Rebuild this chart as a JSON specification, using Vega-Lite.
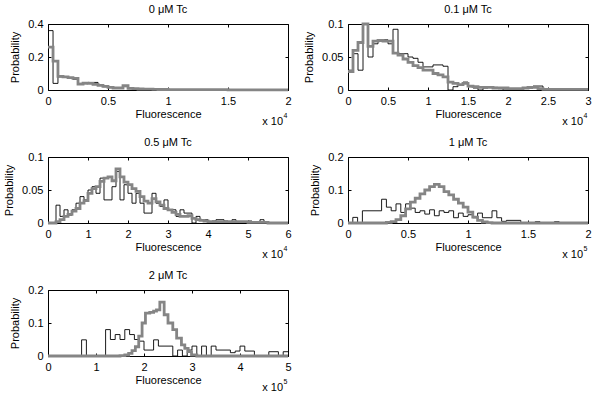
{
  "$schema": "https://vega.github.io/schema/vega-lite/v6.json",
  "padding": {"left": 3, "top": 3, "right": 5, "bottom": 5},
  "config": {
    "font": "Liberation Sans",
    "view": {"stroke": "#000", "strokeWidth": 1},
    "axis": {"grid": false, "domain": false, "tickSize": -3, "tickColor": "#000", "tickWidth": 1,
      "labelFontSize": 11, "titleFontSize": 11, "labelColor": "#000", "titleColor": "#000",
      "titleFontWeight": "normal", "labelFlush": false, "labelPadding": 8, "labelOverlap": false},
    "axisLeft": {"titlePadding": 7},
    "axisBottom": {"titlePadding": 2},
    "title": {"fontSize": 11, "fontWeight": "normal", "color": "#000", "baseline": "alphabetic", "offset": 3, "anchor": "middle"},
    "text": {"font": "Liberation Sans", "color": "#000"}
  },
  "datasets": {
    "p0": [
      {"s":"cell","x":0,"p":0.36},{"s":"cell","x":0.042,"p":0.04},{"s":"cell","x":0.083,"p":0.08},{"s":"cell","x":0.125,"p":0.078},{"s":"cell","x":0.167,"p":0.072},{"s":"cell","x":0.208,"p":0.065},{"s":"cell","x":0.25,"p":0.04},{"s":"cell","x":0.292,"p":0.038},{"s":"cell","x":0.333,"p":0.046},{"s":"cell","x":0.375,"p":0.046},{"s":"cell","x":0.417,"p":0.03},{"s":"cell","x":0.458,"p":0.02},{"s":"cell","x":0.5,"p":0.015},{"s":"cell","x":0.542,"p":0.01},{"s":"cell","x":0.583,"p":0.01},{"s":"cell","x":0.625,"p":0.02},{"s":"cell","x":0.667,"p":0.008},{"s":"cell","x":0.708,"p":0.005},{"s":"cell","x":0.75,"p":0.004},{"s":"cell","x":0.792,"p":0.004},{"s":"cell","x":0.833,"p":0.008},{"s":"cell","x":0.875,"p":0.004},{"s":"cell","x":0.917,"p":0.002},{"s":"cell","x":0.958,"p":0},{"s":"cell","x":2,"p":0},
      {"s":"sim","x":0,"p":0.26},{"s":"sim","x":0.042,"p":0.175},{"s":"sim","x":0.083,"p":0.082},{"s":"sim","x":0.125,"p":0.08},{"s":"sim","x":0.167,"p":0.075},{"s":"sim","x":0.208,"p":0.07},{"s":"sim","x":0.25,"p":0.036},{"s":"sim","x":0.292,"p":0.042},{"s":"sim","x":0.333,"p":0.04},{"s":"sim","x":0.375,"p":0.034},{"s":"sim","x":0.417,"p":0.028},{"s":"sim","x":0.458,"p":0.022},{"s":"sim","x":0.5,"p":0.016},{"s":"sim","x":0.542,"p":0.012},{"s":"sim","x":0.583,"p":0.012},{"s":"sim","x":0.625,"p":0.026},{"s":"sim","x":0.667,"p":0.01},{"s":"sim","x":0.708,"p":0.008},{"s":"sim","x":0.75,"p":0.006},{"s":"sim","x":0.792,"p":0.005},{"s":"sim","x":0.833,"p":0.005},{"s":"sim","x":0.875,"p":0.004},{"s":"sim","x":0.917,"p":0.003},{"s":"sim","x":0.958,"p":0.003},{"s":"sim","x":1,"p":0.002},{"s":"sim","x":1.25,"p":0.002},{"s":"sim","x":1.5,"p":0.001},{"s":"sim","x":2,"p":0.001}
    ],
    "p01": [
      {"s":"cell","x":0,"p":0.03},{"s":"cell","x":0.0625,"p":0.055},{"s":"cell","x":0.125,"p":0.03},{"s":"cell","x":0.1875,"p":0.1},{"s":"cell","x":0.25,"p":0.05},{"s":"cell","x":0.3125,"p":0.07},{"s":"cell","x":0.375,"p":0.076},{"s":"cell","x":0.4375,"p":0.076},{"s":"cell","x":0.5,"p":0.07},{"s":"cell","x":0.5625,"p":0.092},{"s":"cell","x":0.625,"p":0.055},{"s":"cell","x":0.6875,"p":0.055},{"s":"cell","x":0.75,"p":0.05},{"s":"cell","x":0.8125,"p":0.048},{"s":"cell","x":0.875,"p":0.042},{"s":"cell","x":0.9375,"p":0.035},{"s":"cell","x":1,"p":0.035},{"s":"cell","x":1.0625,"p":0.038},{"s":"cell","x":1.125,"p":0.038},{"s":"cell","x":1.1875,"p":0.036},{"s":"cell","x":1.25,"p":0},{"s":"cell","x":1.3125,"p":0.005},{"s":"cell","x":1.375,"p":0.008},{"s":"cell","x":1.4375,"p":0.012},{"s":"cell","x":1.5,"p":0.005},{"s":"cell","x":1.5625,"p":0.003},{"s":"cell","x":1.625,"p":0},{"s":"cell","x":1.6875,"p":0.003},{"s":"cell","x":1.75,"p":0.005},{"s":"cell","x":1.8125,"p":0.004},{"s":"cell","x":1.875,"p":0.002},{"s":"cell","x":1.9375,"p":0},{"s":"cell","x":2,"p":0.002},{"s":"cell","x":2.0625,"p":0},{"s":"cell","x":2.125,"p":0.002},{"s":"cell","x":2.1875,"p":0.003},{"s":"cell","x":2.25,"p":0.003},{"s":"cell","x":2.3125,"p":0.006},{"s":"cell","x":2.375,"p":0.006},{"s":"cell","x":2.4375,"p":0},{"s":"cell","x":3,"p":0},
      {"s":"sim","x":0,"p":0.028},{"s":"sim","x":0.0625,"p":0.06},{"s":"sim","x":0.125,"p":0.072},{"s":"sim","x":0.1875,"p":0.1},{"s":"sim","x":0.25,"p":0.066},{"s":"sim","x":0.3125,"p":0.074},{"s":"sim","x":0.375,"p":0.075},{"s":"sim","x":0.4375,"p":0.074},{"s":"sim","x":0.5,"p":0.074},{"s":"sim","x":0.5625,"p":0.056},{"s":"sim","x":0.625,"p":0.053},{"s":"sim","x":0.6875,"p":0.047},{"s":"sim","x":0.75,"p":0.042},{"s":"sim","x":0.8125,"p":0.037},{"s":"sim","x":0.875,"p":0.034},{"s":"sim","x":0.9375,"p":0.03},{"s":"sim","x":1,"p":0.03},{"s":"sim","x":1.0625,"p":0.025},{"s":"sim","x":1.125,"p":0.023},{"s":"sim","x":1.1875,"p":0.02},{"s":"sim","x":1.25,"p":0.012},{"s":"sim","x":1.3125,"p":0.01},{"s":"sim","x":1.375,"p":0.008},{"s":"sim","x":1.4375,"p":0.01},{"s":"sim","x":1.5,"p":0.006},{"s":"sim","x":1.5625,"p":0.005},{"s":"sim","x":1.625,"p":0.004},{"s":"sim","x":1.6875,"p":0.004},{"s":"sim","x":1.75,"p":0.004},{"s":"sim","x":1.8125,"p":0.003},{"s":"sim","x":1.875,"p":0.003},{"s":"sim","x":1.9375,"p":0.003},{"s":"sim","x":2,"p":0.002},{"s":"sim","x":2.0625,"p":0.002},{"s":"sim","x":2.125,"p":0.002},{"s":"sim","x":2.1875,"p":0.003},{"s":"sim","x":2.25,"p":0.004},{"s":"sim","x":2.3125,"p":0.004},{"s":"sim","x":2.375,"p":0.002},{"s":"sim","x":2.4375,"p":0.001},{"s":"sim","x":2.5,"p":0.001},{"s":"sim","x":3,"p":0.001}
    ],
    "p05": [
      {"s":"cell","x":0,"p":0},{"s":"cell","x":0.2,"p":0.027},{"s":"cell","x":0.3,"p":0.01},{"s":"cell","x":0.4,"p":0.02},{"s":"cell","x":0.5,"p":0.012},{"s":"cell","x":0.6,"p":0.02},{"s":"cell","x":0.7,"p":0.03},{"s":"cell","x":0.8,"p":0.04},{"s":"cell","x":0.9,"p":0.035},{"s":"cell","x":1.0,"p":0.05},{"s":"cell","x":1.1,"p":0.055},{"s":"cell","x":1.2,"p":0.045},{"s":"cell","x":1.3,"p":0.068},{"s":"cell","x":1.4,"p":0.035},{"s":"cell","x":1.5,"p":0.035},{"s":"cell","x":1.6,"p":0.055},{"s":"cell","x":1.7,"p":0.078},{"s":"cell","x":1.8,"p":0.035},{"s":"cell","x":1.9,"p":0.058},{"s":"cell","x":2.0,"p":0.045},{"s":"cell","x":2.1,"p":0.03},{"s":"cell","x":2.2,"p":0.045},{"s":"cell","x":2.3,"p":0.03},{"s":"cell","x":2.4,"p":0.015},{"s":"cell","x":2.5,"p":0.015},{"s":"cell","x":2.6,"p":0.045},{"s":"cell","x":2.7,"p":0.03},{"s":"cell","x":2.8,"p":0.025},{"s":"cell","x":2.9,"p":0.035},{"s":"cell","x":3.0,"p":0.02},{"s":"cell","x":3.1,"p":0.02},{"s":"cell","x":3.2,"p":0.01},{"s":"cell","x":3.3,"p":0.02},{"s":"cell","x":3.4,"p":0.015},{"s":"cell","x":3.5,"p":0.015},{"s":"cell","x":3.6,"p":0},{"s":"cell","x":3.7,"p":0.01},{"s":"cell","x":3.8,"p":0.005},{"s":"cell","x":3.9,"p":0.005},{"s":"cell","x":4.0,"p":0},{"s":"cell","x":4.1,"p":0.003},{"s":"cell","x":4.2,"p":0.005},{"s":"cell","x":4.3,"p":0.005},{"s":"cell","x":4.4,"p":0.003},{"s":"cell","x":4.5,"p":0},{"s":"cell","x":4.6,"p":0.005},{"s":"cell","x":4.7,"p":0},{"s":"cell","x":5.0,"p":0.003},{"s":"cell","x":5.1,"p":0},{"s":"cell","x":5.3,"p":0.005},{"s":"cell","x":5.4,"p":0},{"s":"cell","x":6,"p":0},
      {"s":"sim","x":0,"p":0},{"s":"sim","x":0.2,"p":0.002},{"s":"sim","x":0.3,"p":0.005},{"s":"sim","x":0.4,"p":0.01},{"s":"sim","x":0.5,"p":0.013},{"s":"sim","x":0.6,"p":0.018},{"s":"sim","x":0.7,"p":0.022},{"s":"sim","x":0.8,"p":0.03},{"s":"sim","x":0.9,"p":0.034},{"s":"sim","x":1.0,"p":0.045},{"s":"sim","x":1.1,"p":0.052},{"s":"sim","x":1.2,"p":0.055},{"s":"sim","x":1.3,"p":0.063},{"s":"sim","x":1.4,"p":0.068},{"s":"sim","x":1.5,"p":0.07},{"s":"sim","x":1.6,"p":0.064},{"s":"sim","x":1.7,"p":0.082},{"s":"sim","x":1.8,"p":0.07},{"s":"sim","x":1.9,"p":0.062},{"s":"sim","x":2.0,"p":0.058},{"s":"sim","x":2.1,"p":0.052},{"s":"sim","x":2.2,"p":0.048},{"s":"sim","x":2.3,"p":0.04},{"s":"sim","x":2.4,"p":0.033},{"s":"sim","x":2.5,"p":0.03},{"s":"sim","x":2.6,"p":0.037},{"s":"sim","x":2.7,"p":0.032},{"s":"sim","x":2.8,"p":0.027},{"s":"sim","x":2.9,"p":0.022},{"s":"sim","x":3.0,"p":0.02},{"s":"sim","x":3.1,"p":0.016},{"s":"sim","x":3.2,"p":0.013},{"s":"sim","x":3.3,"p":0.01},{"s":"sim","x":3.4,"p":0.01},{"s":"sim","x":3.5,"p":0.011},{"s":"sim","x":3.6,"p":0.007},{"s":"sim","x":3.7,"p":0.005},{"s":"sim","x":3.8,"p":0.004},{"s":"sim","x":3.9,"p":0.003},{"s":"sim","x":4.0,"p":0.002},{"s":"sim","x":4.5,"p":0.002},{"s":"sim","x":5.0,"p":0.001},{"s":"sim","x":5.5,"p":0},{"s":"sim","x":6,"p":0}
    ],
    "p1": [
      {"s":"cell","x":0,"p":0},{"s":"cell","x":0.04,"p":0.017},{"s":"cell","x":0.08,"p":0},{"s":"cell","x":0.12,"p":0.037},{"s":"cell","x":0.28,"p":0.072},{"s":"cell","x":0.32,"p":0.048},{"s":"cell","x":0.36,"p":0.037},{"s":"cell","x":0.4,"p":0.058},{"s":"cell","x":0.44,"p":0.032},{"s":"cell","x":0.48,"p":0.058},{"s":"cell","x":0.52,"p":0.045},{"s":"cell","x":0.56,"p":0.032},{"s":"cell","x":0.6,"p":0.037},{"s":"cell","x":0.64,"p":0.027},{"s":"cell","x":0.68,"p":0.04},{"s":"cell","x":0.72,"p":0.022},{"s":"cell","x":0.76,"p":0.037},{"s":"cell","x":0.8,"p":0.032},{"s":"cell","x":0.84,"p":0.037},{"s":"cell","x":0.88,"p":0.016},{"s":"cell","x":0.92,"p":0.03},{"s":"cell","x":0.96,"p":0.02},{"s":"cell","x":1.0,"p":0.025},{"s":"cell","x":1.04,"p":0.016},{"s":"cell","x":1.08,"p":0.03},{"s":"cell","x":1.12,"p":0.016},{"s":"cell","x":1.2,"p":0.037},{"s":"cell","x":1.24,"p":0.016},{"s":"cell","x":1.28,"p":0.005},{"s":"cell","x":1.32,"p":0.008},{"s":"cell","x":1.44,"p":0},{"s":"cell","x":1.56,"p":0.004},{"s":"cell","x":1.6,"p":0},{"s":"cell","x":1.72,"p":0.004},{"s":"cell","x":1.76,"p":0},{"s":"cell","x":2,"p":0},
      {"s":"sim","x":0,"p":0},{"s":"sim","x":0.32,"p":0.002},{"s":"sim","x":0.36,"p":0.004},{"s":"sim","x":0.4,"p":0.01},{"s":"sim","x":0.44,"p":0.022},{"s":"sim","x":0.48,"p":0.043},{"s":"sim","x":0.52,"p":0.063},{"s":"sim","x":0.56,"p":0.075},{"s":"sim","x":0.6,"p":0.088},{"s":"sim","x":0.64,"p":0.1},{"s":"sim","x":0.68,"p":0.11},{"s":"sim","x":0.72,"p":0.117},{"s":"sim","x":0.76,"p":0.11},{"s":"sim","x":0.8,"p":0.095},{"s":"sim","x":0.84,"p":0.085},{"s":"sim","x":0.88,"p":0.072},{"s":"sim","x":0.92,"p":0.06},{"s":"sim","x":0.96,"p":0.048},{"s":"sim","x":1.0,"p":0.033},{"s":"sim","x":1.04,"p":0.018},{"s":"sim","x":1.08,"p":0.008},{"s":"sim","x":1.12,"p":0.003},{"s":"sim","x":1.16,"p":0.001},{"s":"sim","x":1.2,"p":0},{"s":"sim","x":2,"p":0}
    ],
    "p2": [
      {"s":"cell","x":0,"p":0},{"s":"cell","x":0.7,"p":0.049},{"s":"cell","x":0.8,"p":0},{"s":"cell","x":1.2,"p":0.08},{"s":"cell","x":1.3,"p":0.05},{"s":"cell","x":1.4,"p":0.065},{"s":"cell","x":1.5,"p":0.05},{"s":"cell","x":1.6,"p":0.08},{"s":"cell","x":1.7,"p":0.065},{"s":"cell","x":1.8,"p":0.05},{"s":"cell","x":1.9,"p":0.045},{"s":"cell","x":2.0,"p":0.018},{"s":"cell","x":2.2,"p":0.049},{"s":"cell","x":2.3,"p":0.03},{"s":"cell","x":2.6,"p":0},{"s":"cell","x":2.7,"p":0.018},{"s":"cell","x":2.8,"p":0},{"s":"cell","x":2.9,"p":0.018},{"s":"cell","x":3.0,"p":0.03},{"s":"cell","x":3.1,"p":0},{"s":"cell","x":3.2,"p":0.03},{"s":"cell","x":3.3,"p":0},{"s":"cell","x":3.4,"p":0.03},{"s":"cell","x":3.5,"p":0.018},{"s":"cell","x":3.8,"p":0.01},{"s":"cell","x":3.9,"p":0.015},{"s":"cell","x":4.0,"p":0.03},{"s":"cell","x":4.1,"p":0.015},{"s":"cell","x":4.3,"p":0},{"s":"cell","x":4.6,"p":0.013},{"s":"cell","x":4.8,"p":0},{"s":"cell","x":4.9,"p":0.013},{"s":"cell","x":5,"p":0.013},
      {"s":"sim","x":0,"p":0},{"s":"sim","x":1.5,"p":0.001},{"s":"sim","x":1.6,"p":0.003},{"s":"sim","x":1.68,"p":0.008},{"s":"sim","x":1.75,"p":0.016},{"s":"sim","x":1.82,"p":0.028},{"s":"sim","x":1.89,"p":0.06},{"s":"sim","x":1.96,"p":0.1},{"s":"sim","x":2.03,"p":0.13},{"s":"sim","x":2.12,"p":0.132},{"s":"sim","x":2.2,"p":0.136},{"s":"sim","x":2.26,"p":0.14},{"s":"sim","x":2.33,"p":0.163},{"s":"sim","x":2.42,"p":0.125},{"s":"sim","x":2.5,"p":0.1},{"s":"sim","x":2.6,"p":0.08},{"s":"sim","x":2.68,"p":0.054},{"s":"sim","x":2.78,"p":0.034},{"s":"sim","x":2.85,"p":0.023},{"s":"sim","x":2.92,"p":0.013},{"s":"sim","x":2.99,"p":0.003},{"s":"sim","x":3.1,"p":0},{"s":"sim","x":5,"p":0}
    ]
  },
  "bounds": "flush",
  "columns": 2,
  "spacing": {"row": 67, "column": 60},
  "concat": [
      {"title": "0 μM Tc", "width": 240, "height": 66, "data": {"name": "p0"},
       "layer": [
        {"transform": [{"filter": "datum.s === 'cell'"}], "mark": {"type": "line", "interpolate": "step-after", "color": "#000", "strokeWidth": 0.9},
         "encoding": {"x": {"field": "x", "type": "quantitative", "scale": {"domain": [0, 2], "nice": false, "zero": false}, "axis": {"orient": "top", "labels": false, "title": null, "values": [0, 0.5, 1, 1.5, 2]}},
                      "y": {"field": "p", "type": "quantitative", "scale": {"domain": [0, 0.4], "nice": false}, "axis": {"orient": "right", "labels": false, "title": null, "values": [0, 0.2, 0.4]}}}},
        {"transform": [{"filter": "datum.s === 'sim'"}], "mark": {"type": "line", "interpolate": "step-after", "color": "#858585", "strokeWidth": 2.8},
         "encoding": {"x": {"field": "x", "type": "quantitative", "scale": {"domain": [0, 2], "nice": false, "zero": false}, "axis": {"orient": "bottom", "title": "Fluorescence", "values": [0, 0.5, 1, 1.5, 2], "format": "~g"}},
                      "y": {"field": "p", "type": "quantitative", "scale": {"domain": [0, 0.4], "nice": false}, "axis": {"orient": "left", "title": "Probability", "values": [0, 0.2, 0.4], "format": "~g"}}}},
        {"data": {"values": [{}]}, "mark": {"type": "text", "align": "right", "baseline": "alphabetic", "dx": -5, "dy": 35, "fontSize": 11},
         "encoding": {"x": {"datum": 2, "type": "quantitative", "axis": null}, "y": {"datum": 0, "type": "quantitative", "axis": null}, "text": {"value": "x 10"}}},
        {"data": {"values": [{}]}, "mark": {"type": "text", "align": "right", "baseline": "alphabetic", "dx": -0.5, "dy": 28, "fontSize": 7},
         "encoding": {"x": {"datum": 2, "type": "quantitative", "axis": null}, "y": {"datum": 0, "type": "quantitative", "axis": null}, "text": {"value": "4"}}}
       ],
       "resolve": {"axis": {"x": "independent", "y": "independent"}}},
      {"title": "0.1 μM Tc", "width": 240, "height": 66, "data": {"name": "p01"},
       "layer": [
        {"transform": [{"filter": "datum.s === 'cell'"}], "mark": {"type": "line", "interpolate": "step-after", "color": "#000", "strokeWidth": 0.9},
         "encoding": {"x": {"field": "x", "type": "quantitative", "scale": {"domain": [0, 3], "nice": false, "zero": false}, "axis": {"orient": "top", "labels": false, "title": null, "values": [0, 0.5, 1, 1.5, 2, 2.5, 3]}},
                      "y": {"field": "p", "type": "quantitative", "scale": {"domain": [0, 0.1], "nice": false}, "axis": {"orient": "right", "labels": false, "title": null, "values": [0, 0.05, 0.1]}}}},
        {"transform": [{"filter": "datum.s === 'sim'"}], "mark": {"type": "line", "interpolate": "step-after", "color": "#858585", "strokeWidth": 2.8},
         "encoding": {"x": {"field": "x", "type": "quantitative", "scale": {"domain": [0, 3], "nice": false, "zero": false}, "axis": {"orient": "bottom", "title": "Fluorescence", "values": [0, 0.5, 1, 1.5, 2, 2.5, 3], "format": "~g"}},
                      "y": {"field": "p", "type": "quantitative", "scale": {"domain": [0, 0.1], "nice": false}, "axis": {"orient": "left", "title": "Probability", "values": [0, 0.05, 0.1], "format": "~g"}}}},
        {"data": {"values": [{}]}, "mark": {"type": "text", "align": "right", "baseline": "alphabetic", "dx": -5, "dy": 35, "fontSize": 11},
         "encoding": {"x": {"datum": 3, "type": "quantitative", "axis": null}, "y": {"datum": 0, "type": "quantitative", "axis": null}, "text": {"value": "x 10"}}},
        {"data": {"values": [{}]}, "mark": {"type": "text", "align": "right", "baseline": "alphabetic", "dx": -0.5, "dy": 28, "fontSize": 7},
         "encoding": {"x": {"datum": 3, "type": "quantitative", "axis": null}, "y": {"datum": 0, "type": "quantitative", "axis": null}, "text": {"value": "4"}}}
       ],
       "resolve": {"axis": {"x": "independent", "y": "independent"}}},
      {"title": "0.5 μM Tc", "width": 240, "height": 66, "data": {"name": "p05"},
       "layer": [
        {"transform": [{"filter": "datum.s === 'cell'"}], "mark": {"type": "line", "interpolate": "step-after", "color": "#000", "strokeWidth": 0.9},
         "encoding": {"x": {"field": "x", "type": "quantitative", "scale": {"domain": [0, 6], "nice": false, "zero": false}, "axis": {"orient": "top", "labels": false, "title": null, "values": [0, 1, 2, 3, 4, 5, 6]}},
                      "y": {"field": "p", "type": "quantitative", "scale": {"domain": [0, 0.1], "nice": false}, "axis": {"orient": "right", "labels": false, "title": null, "values": [0, 0.05, 0.1]}}}},
        {"transform": [{"filter": "datum.s === 'sim'"}], "mark": {"type": "line", "interpolate": "step-after", "color": "#858585", "strokeWidth": 2.8},
         "encoding": {"x": {"field": "x", "type": "quantitative", "scale": {"domain": [0, 6], "nice": false, "zero": false}, "axis": {"orient": "bottom", "title": "Fluorescence", "values": [0, 1, 2, 3, 4, 5, 6], "format": "~g"}},
                      "y": {"field": "p", "type": "quantitative", "scale": {"domain": [0, 0.1], "nice": false}, "axis": {"orient": "left", "title": "Probability", "values": [0, 0.05, 0.1], "format": "~g"}}}},
        {"data": {"values": [{}]}, "mark": {"type": "text", "align": "right", "baseline": "alphabetic", "dx": -5, "dy": 35, "fontSize": 11},
         "encoding": {"x": {"datum": 6, "type": "quantitative", "axis": null}, "y": {"datum": 0, "type": "quantitative", "axis": null}, "text": {"value": "x 10"}}},
        {"data": {"values": [{}]}, "mark": {"type": "text", "align": "right", "baseline": "alphabetic", "dx": -0.5, "dy": 28, "fontSize": 7},
         "encoding": {"x": {"datum": 6, "type": "quantitative", "axis": null}, "y": {"datum": 0, "type": "quantitative", "axis": null}, "text": {"value": "4"}}}
       ],
       "resolve": {"axis": {"x": "independent", "y": "independent"}}},
      {"title": "1 μM Tc", "width": 240, "height": 66, "data": {"name": "p1"},
       "layer": [
        {"transform": [{"filter": "datum.s === 'cell'"}], "mark": {"type": "line", "interpolate": "step-after", "color": "#000", "strokeWidth": 0.9},
         "encoding": {"x": {"field": "x", "type": "quantitative", "scale": {"domain": [0, 2], "nice": false, "zero": false}, "axis": {"orient": "top", "labels": false, "title": null, "values": [0, 0.5, 1, 1.5, 2]}},
                      "y": {"field": "p", "type": "quantitative", "scale": {"domain": [0, 0.2], "nice": false}, "axis": {"orient": "right", "labels": false, "title": null, "values": [0, 0.1, 0.2]}}}},
        {"transform": [{"filter": "datum.s === 'sim'"}], "mark": {"type": "line", "interpolate": "step-after", "color": "#858585", "strokeWidth": 2.8},
         "encoding": {"x": {"field": "x", "type": "quantitative", "scale": {"domain": [0, 2], "nice": false, "zero": false}, "axis": {"orient": "bottom", "title": "Fluorescence", "values": [0, 0.5, 1, 1.5, 2], "format": "~g"}},
                      "y": {"field": "p", "type": "quantitative", "scale": {"domain": [0, 0.2], "nice": false}, "axis": {"orient": "left", "title": "Probability", "values": [0, 0.1, 0.2], "format": "~g"}}}},
        {"data": {"values": [{}]}, "mark": {"type": "text", "align": "right", "baseline": "alphabetic", "dx": -5, "dy": 35, "fontSize": 11},
         "encoding": {"x": {"datum": 2, "type": "quantitative", "axis": null}, "y": {"datum": 0, "type": "quantitative", "axis": null}, "text": {"value": "x 10"}}},
        {"data": {"values": [{}]}, "mark": {"type": "text", "align": "right", "baseline": "alphabetic", "dx": -0.5, "dy": 28, "fontSize": 7},
         "encoding": {"x": {"datum": 2, "type": "quantitative", "axis": null}, "y": {"datum": 0, "type": "quantitative", "axis": null}, "text": {"value": "5"}}}
       ],
       "resolve": {"axis": {"x": "independent", "y": "independent"}}},
      {"title": "2 μM Tc", "width": 240, "height": 66, "data": {"name": "p2"},
       "layer": [
        {"transform": [{"filter": "datum.s === 'cell'"}], "mark": {"type": "line", "interpolate": "step-after", "color": "#000", "strokeWidth": 0.9},
         "encoding": {"x": {"field": "x", "type": "quantitative", "scale": {"domain": [0, 5], "nice": false, "zero": false}, "axis": {"orient": "top", "labels": false, "title": null, "values": [0, 1, 2, 3, 4, 5]}},
                      "y": {"field": "p", "type": "quantitative", "scale": {"domain": [0, 0.2], "nice": false}, "axis": {"orient": "right", "labels": false, "title": null, "values": [0, 0.1, 0.2]}}}},
        {"transform": [{"filter": "datum.s === 'sim'"}], "mark": {"type": "line", "interpolate": "step-after", "color": "#858585", "strokeWidth": 2.8},
         "encoding": {"x": {"field": "x", "type": "quantitative", "scale": {"domain": [0, 5], "nice": false, "zero": false}, "axis": {"orient": "bottom", "title": "Fluorescence", "values": [0, 1, 2, 3, 4, 5], "format": "~g"}},
                      "y": {"field": "p", "type": "quantitative", "scale": {"domain": [0, 0.2], "nice": false}, "axis": {"orient": "left", "title": "Probability", "values": [0, 0.1, 0.2], "format": "~g"}}}},
        {"data": {"values": [{}]}, "mark": {"type": "text", "align": "right", "baseline": "alphabetic", "dx": -5, "dy": 35, "fontSize": 11},
         "encoding": {"x": {"datum": 5, "type": "quantitative", "axis": null}, "y": {"datum": 0, "type": "quantitative", "axis": null}, "text": {"value": "x 10"}}},
        {"data": {"values": [{}]}, "mark": {"type": "text", "align": "right", "baseline": "alphabetic", "dx": -0.5, "dy": 28, "fontSize": 7},
         "encoding": {"x": {"datum": 5, "type": "quantitative", "axis": null}, "y": {"datum": 0, "type": "quantitative", "axis": null}, "text": {"value": "5"}}}
       ],
       "resolve": {"axis": {"x": "independent", "y": "independent"}}}
  ]
}
